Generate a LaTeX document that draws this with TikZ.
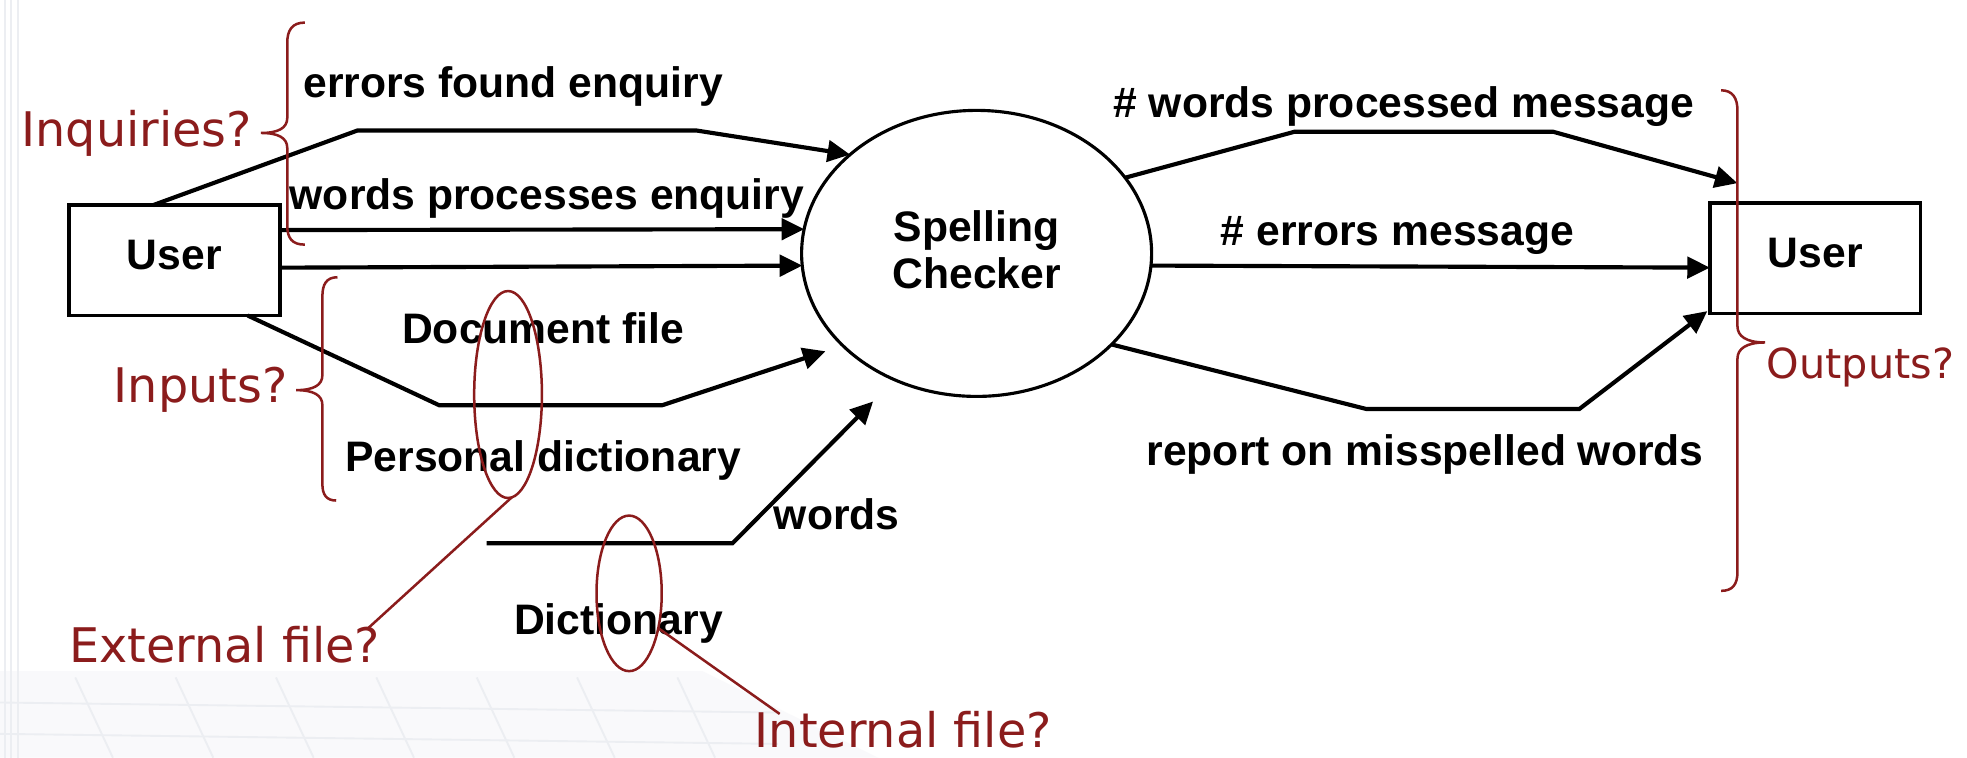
\documentclass[tikz,border=0pt]{standalone}
\usepackage{fontspec}
\setmainfont{Liberation Sans}
\newfontfamily\annfont{DejaVu Sans}
\usetikzlibrary{arrows.meta,shapes.geometric}
\definecolor{annred}{RGB}{139,28,28}
\definecolor{bgline}{RGB}{236,238,242}
\definecolor{bgfill}{RGB}{249,249,251}
\begin{document}
\begin{tikzpicture}[x=1pt,y=-1pt,
  lbl/.style={font=\fontsize{34}{39}\selectfont\bfseries, inner sep=0},
  ann/.style={font=\annfont\fontsize{38}{44}\selectfont, text=annred, inner sep=0},
  flow/.style={line width=3.3pt, -{Triangle[length=18pt,width=17pt]}, line join=miter},
  annline/.style={draw=annred, line width=2pt},
  bg/.style={draw=bgline, line width=1.5pt},
  entity/.style={draw, line width=3pt, rectangle, minimum width=168pt, minimum height=88pt,
    inner sep=0, outer sep=0, text depth=9pt, font=\fontsize{34}{39}\selectfont\bfseries},
  proc/.style={draw, ellipse, line width=2.5pt, minimum width=279pt, minimum height=228pt,
    inner sep=0, outer sep=0, align=center, text depth=6pt, font=\fontsize{34}{37}\selectfont\bfseries},
]
\useasboundingbox (0,0) rectangle (1568,604);
\fill[white] (0,0) rectangle (1568,604);

% faint slide background
\fill[bgfill] (0,535) -- (560,535) -- (700,604) -- (0,604) -- cycle;
\foreach \x in {4,9,14} \draw[bg] (\x,0) -- (\x,604);
\foreach \y in {560,585} \draw[bg] (0,\y) -- (620,\y+8);
\foreach \x in {60,140,220,300,380,460,540} \draw[bg] (\x,540) -- (\x+30,604);

% nodes
\node[entity] (userL) at (139,207.5) {User};
\node[proc] (proc) at (778.5,202) {Spelling\\Checker};
\node[entity] (userR) at (1447,206) {User};

% waypoints
\coordinate (a1b) at (285,104);
\coordinate (a1c) at (555,104);
\coordinate (a4b) at (350,323);
\coordinate (a4c) at (528,323);
\coordinate (a4e) at (658,280);
\coordinate (a5s) at (388,433);
\coordinate (a5b) at (584,433);
\coordinate (a5e) at (696,320);
\coordinate (o1b) at (1032,105);
\coordinate (o1c) at (1238,105);
\coordinate (o3b) at (1089,326);
\coordinate (o3c) at (1259,326);

% input flows
\draw[flow] (userL.111) -- (a1b) -- (a1c) -- (proc.142);
\draw[flow] (userL.16.5) -- (proc.172);
\draw[flow] (userL.-4) -- (proc.184.5);
\draw[flow] (userL.-37.5) -- (a4b) -- (a4c) -- (a4e);
\draw[flow] (a5s) -- (a5b) -- (a5e);

% output flows
\draw[flow] (proc.27) -- (o1b) -- (o1c) -- ([shift={(22pt,16pt)}]userR.north west);
\draw[flow] (proc.-4.5) -- (userR.185);
\draw[flow] (proc.-34) -- (o3b) -- (o3c) -- ([shift={(-2pt,2pt)}]userR.south west);

% flow labels
\node[lbl] (l1) at (409,69) {errors found enquiry};
\node[lbl] (l2) at (436,158) {words processes enquiry};
\node[lbl] (l3) at (433,262) {Document file};
\node[lbl] (l4) at (433,367) {Personal dictionary};
\node[lbl] (l5) at (667,410) {words};
\node[lbl] (l6) at (493,497) {Dictionary};
\node[lbl] (l7) at (1119,85) {\# words processed message};
\node[lbl] (l8) at (1114,188) {\# errors message};
\node[lbl] (l9) at (1136,362) {report on misspelled words};

% annotations
\node[ann] (inq) at (109,106) {Inquiries?};
\node[ann] (inp) at (160,311) {Inputs?};
\node[ann] (ext) at (179,514) {External file?};
\node[ann] (int) at (720,582) {Internal file?};
\node[ann, font=\annfont\fontsize{33}{40}\selectfont] (outp) at (1483,293) {Outputs?};

% braces
\draw[annline] (243,18) .. controls (233,18) and (229,24) .. (229,34) -- (229,94)
  .. controls (229,102) and (222,106) .. (208,106)
  .. controls (222,106) and (229,110) .. (229,118) -- (229,180)
  .. controls (229,190) and (233,195) .. (243,195);
\draw[annline] (269,221) .. controls (260,221) and (257,227) .. (257,236) -- (257,299)
  .. controls (257,307) and (250,311) .. (236,311)
  .. controls (250,311) and (257,315) .. (257,323) -- (257,386)
  .. controls (257,394) and (260,399) .. (268,399);
\draw[annline] (1372,72) .. controls (1381,72) and (1385,78) .. (1385,88) -- (1385,260)
  .. controls (1385,268) and (1392,273) .. (1407,273)
  .. controls (1392,273) and (1385,278) .. (1385,286) -- (1385,456)
  .. controls (1385,466) and (1381,471) .. (1372,471);

% file ellipses and pointers
\node[draw=annred, line width=2pt, ellipse, minimum width=54pt, minimum height=165pt, inner sep=0, outer sep=0] (extE) at (405,314.5) {};
\node[draw=annred, line width=2pt, ellipse, minimum width=52pt, minimum height=124pt, inner sep=0, outer sep=0] (intE) at (501.5,473) {};
\draw[annline] (extE.-88) -- ([shift={(-10pt,-2pt)}]ext.north east);
\draw[annline] (intE.-50) -- ([shift={(20pt,-2pt)}]int.north west);
\end{tikzpicture}
\end{document}
